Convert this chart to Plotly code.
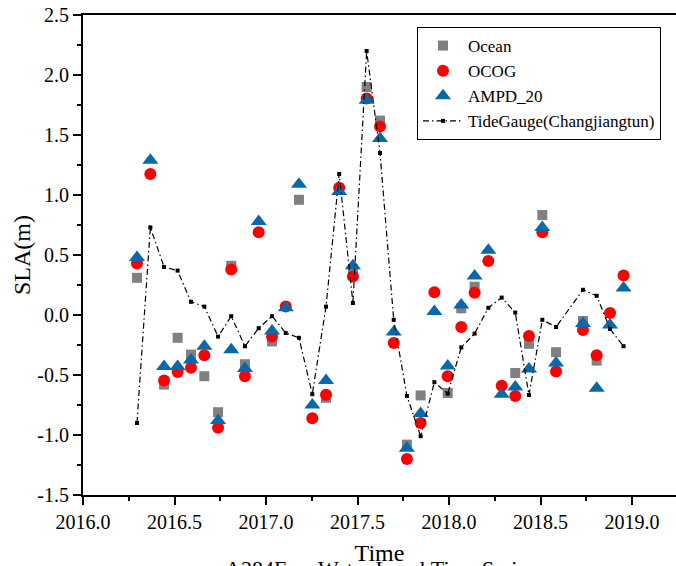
import plotly.graph_objects as go

# cycle times (decimal year)
times = [2016.295, 2016.368, 2016.443, 2016.517, 2016.590, 2016.663, 2016.738, 2016.810,
         2016.885, 2016.960, 2017.033, 2017.108, 2017.180, 2017.253, 2017.328, 2017.400,
         2017.475, 2017.550, 2017.623, 2017.698, 2017.770, 2017.845, 2017.920, 2017.993,
         2018.067, 2018.140, 2018.215, 2018.288, 2018.362, 2018.437, 2018.510, 2018.585,
         2018.732, 2018.807, 2018.880, 2018.954]

ocean = [0.31, None, -0.58, -0.19, -0.33, -0.51, -0.81, 0.41,
         -0.41, None, -0.22, None, 0.96, None, -0.69, None,
         0.38, 1.90, 1.62, None, -1.08, -0.67, None, -0.65,
         0.056, 0.236, None, None, -0.483, -0.24, 0.833, -0.31,
         -0.05, -0.38, None, None]

ocog = [0.43, 1.175, -0.545, -0.475, -0.44, -0.336, -0.94, 0.38,
        -0.51, 0.69, -0.18, 0.07, None, -0.86, -0.665, 1.06,
        0.32, 1.805, 1.57, -0.233, -1.20, -0.90, 0.19, -0.51,
        -0.10, 0.186, 0.45, -0.59, -0.675, -0.175, 0.69, -0.47,
        -0.125, -0.336, 0.017, 0.33]

ampd20 = [0.48, 1.29, -0.43, -0.43, -0.375, -0.26, -0.88, -0.29,
          -0.445, 0.78, -0.133, 0.06, 1.09, -0.75, -0.545, 1.03,
          0.41, 1.79, 1.47, -0.142, -1.11, -0.82, 0.03, -0.425,
          0.083, 0.325, 0.54, -0.66, -0.60, -0.45, 0.73, -0.40,
          -0.07, -0.61, -0.083, 0.225]

tide = [-0.90, 0.73, 0.40, 0.37, 0.11, 0.07, -0.18, -0.01,
        -0.26, -0.11, -0.01, -0.15, -0.19, -0.66, 0.07, 1.175,
        0.10, 2.20, 1.35, -0.04, -0.675, -1.01, -0.56, -0.655,
        -0.27, -0.155, 0.06, 0.145, 0.02, -0.667, -0.04, -0.10,
        0.21, 0.16, -0.117, -0.26]

x_ticks = [2016.0, 2016.5, 2017.0, 2017.5, 2018.0, 2018.5, 2019.0]
x_ticktext = ["2016.0", "2016.5", "2017.0", "2017.5", "2018.0", "2018.5", "2019.0"]
y_ticks = [-1.5, -1.0, -0.5, 0.0, 0.5, 1.0, 1.5, 2.0, 2.5]
y_ticktext = ["-1.5", "-1.0", "-0.5", "0.0", "0.5", "1.0", "1.5", "2.0", "2.5"]

FONT = "Liberation Serif, Times New Roman, serif"

W, H = 676, 566
L, T, B = 83, 15, 71
PW = W - L  # plot width (right edge of the plot touches the page edge)
PH = H - T - B

fig = go.Figure()
fig.add_trace(go.Scatter(x=times, y=ocean, mode="markers", name="Ocean",
                         marker=dict(symbol="square", size=10, color="#808080")))
fig.add_trace(go.Scatter(x=times, y=ocog, mode="markers", name="OCOG",
                         marker=dict(symbol="circle", size=12, color="#FF0000")))
fig.add_trace(go.Scatter(x=times, y=ampd20, mode="markers", name="AMPD_20",
                         marker=dict(symbol="triangle-up", size=14, color="#0868AC")))
fig.add_trace(go.Scatter(x=times, y=tide, mode="lines+markers", name="TideGauge(Changjiangtun)",
                         line=dict(color="black", width=1.2, dash="6px,3px,1.5px,3px"),
                         marker=dict(symbol="square", size=4, color="black")))

fig.update_layout(
    width=W, height=H,
    margin=dict(l=L, r=0, t=T, b=B),
    paper_bgcolor="white", plot_bgcolor="white",
    font=dict(family=FONT, size=19, color="black"),
    showlegend=True,
    legend=dict(x=(417 - L) / PW, y=(T + PH - 27) / PH, xanchor="left", yanchor="top",
                bordercolor="black", borderwidth=1, bgcolor="white",
                font=dict(family=FONT, size=17, color="black"), tracegroupgap=0, itemwidth=40),
    annotations=[dict(text="A284Ezrs Water Level Time Series", xref="paper", yref="paper",
                      x=(223 - L) / PW, y=(T + PH - 554) / PH, xanchor="left", yanchor="top",
                      showarrow=False, font=dict(family=FONT, size=22, color="black"))],
)
fig.update_xaxes(range=[2016.0, 2016.0 + PW / 183], tickvals=x_ticks, ticktext=x_ticktext,
                 tickfont=dict(family=FONT, size=20, color="black"),
                 showline=True, linecolor="black", linewidth=2, mirror=True,
                 ticks="outside", ticklen=8, tickwidth=1.5, tickcolor="black",
                 minor=dict(ticks="outside", ticklen=4, dtick=0.25, tick0=2016.0, tickcolor="black", tickwidth=1.5),
                 showgrid=False, zeroline=False,
                 title=dict(text="Time", font=dict(family=FONT, size=24, color="black"), standoff=14))
fig.update_yaxes(range=[-1.5, 2.5], tickvals=y_ticks, ticktext=y_ticktext, ticksuffix=" ",
                 tickfont=dict(family=FONT, size=20, color="black"),
                 showline=True, linecolor="black", linewidth=2,
                 ticks="outside", ticklen=8, tickwidth=1.5, tickcolor="black",
                 minor=dict(ticks="outside", ticklen=4, dtick=0.25, tick0=0, tickcolor="black", tickwidth=1.5),
                 showgrid=False, zeroline=False,
                 title=dict(text="SLA(m)", font=dict(family=FONT, size=24, color="black"), standoff=0))

# remove the browser's default 8px body margin so the figure starts at the page corner
fig.write_html("out.html", config={"displayModeBar": False},
               post_script="document.body.style.margin='0';")
